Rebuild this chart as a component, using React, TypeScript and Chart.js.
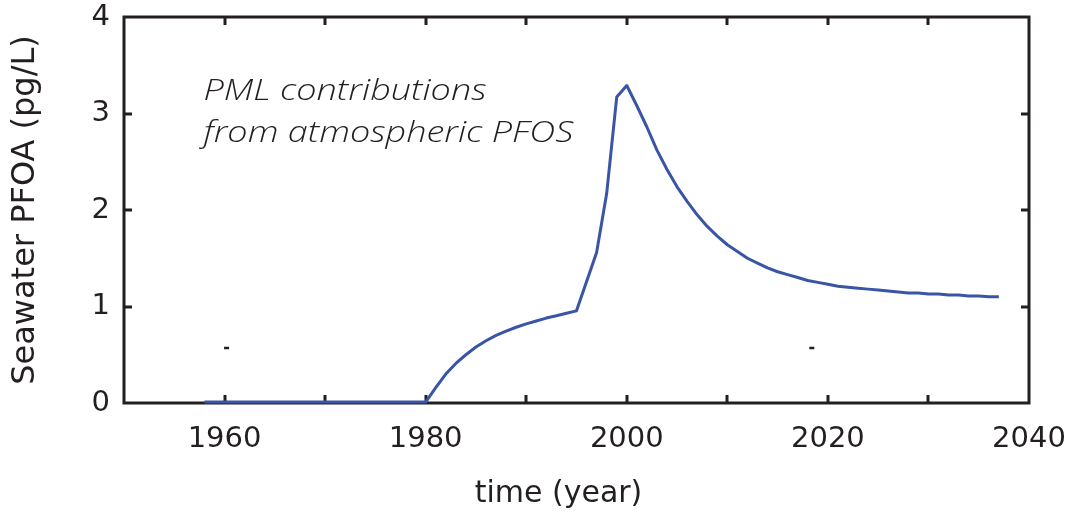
import React, { useEffect, useRef } from "react";
import { Chart, registerables } from "chart.js";

Chart.register(...registerables);

// ---- data ----
const years = [
  1958, 1980, 1981, 1982, 1983, 1984, 1985, 1986, 1987, 1988, 1989, 1990, 1991, 1992, 1993, 1994, 1995,
  1997, 1998, 1999, 2000, 2001, 2002, 2003, 2004, 2005, 2006, 2007, 2008, 2009, 2010, 2011, 2012, 2013,
  2014, 2015, 2016, 2017, 2018, 2019, 2020, 2021, 2022, 2023, 2024, 2025, 2026, 2027, 2028, 2029, 2030,
  2031, 2032, 2033, 2034, 2035, 2036, 2037,
];
const pfoa = [
  0.01, 0.01, 0.16, 0.3, 0.41, 0.5, 0.58, 0.645, 0.7, 0.745, 0.785, 0.82, 0.85, 0.88, 0.905, 0.93, 0.955,
  1.56, 2.17, 3.17, 3.29, 3.08, 2.86, 2.62, 2.42, 2.24, 2.09, 1.95, 1.83, 1.73, 1.64, 1.57, 1.5, 1.45,
  1.4, 1.36, 1.33, 1.3, 1.27, 1.25, 1.23, 1.21, 1.2, 1.19, 1.18, 1.17, 1.16, 1.15, 1.14, 1.14, 1.13,
  1.13, 1.12, 1.12, 1.11, 1.11, 1.1, 1.1,
];
const markerYears = [1960.2, 2018.4];
const markerValues = [0.57, 0.57];
const xLabelYears = [1960, 1980, 2000, 2020, 2040];
const yTickValues = [0, 1, 2, 3, 4];
const annotationLines = ["PML contributions", "from atmospheric PFOS"];
const xTitle = "time (year)";
const yTitle = "Seawater PFOA (pg/L)";

// ---- styling ----
const INK = "#231f20";
const LINE = "#3a54a6";
const FONT = "'DejaVu Sans', sans-serif";
const annotationAnchor = { year: 1957.9, value: 3.14 };
const annotationLineGap = 42;
const annotationStretch = 1.2;
const xTitleShift = -18;

const framePlugin = {
  id: "frame",
  beforeDatasetsDraw(chart: any) {
    const { ctx, chartArea } = chart;
    const { left, right, top, bottom } = chartArea;
    const xs = chart.scales.x;
    const ys = chart.scales.y;
    const tl = 8;
    ctx.save();
    ctx.strokeStyle = INK;
    ctx.lineWidth = 3;
    ctx.lineCap = "butt";
    ctx.beginPath();
    xs.ticks.forEach((t: any) => {
      const px = Math.round(xs.getPixelForValue(t.value));
      if (px <= left + 2 || px >= right - 2) return;
      ctx.moveTo(px, bottom);
      ctx.lineTo(px, bottom - tl);
      ctx.moveTo(px, top);
      ctx.lineTo(px, top + tl);
    });
    ys.ticks.forEach((t: any) => {
      const py = Math.round(ys.getPixelForValue(t.value));
      if (py <= top + 2 || py >= bottom - 2) return;
      ctx.moveTo(left, py);
      ctx.lineTo(left + tl, py);
      ctx.moveTo(right, py);
      ctx.lineTo(right - tl, py);
    });
    ctx.stroke();
    ctx.lineJoin = "miter";
    ctx.strokeRect(left, top, right - left, bottom - top);
    ctx.restore();
  },
  afterDraw(chart: any) {
    const { ctx, chartArea } = chart;
    const xs = chart.scales.x;
    const ys = chart.scales.y;
    // annotation
    const ax = xs.getPixelForValue(annotationAnchor.year);
    const ay = ys.getPixelForValue(annotationAnchor.value);
    ctx.save();
    ctx.fillStyle = INK;
    ctx.font = "italic 300 30px 'Open Sans', sans-serif";
    ctx.textAlign = "left";
    ctx.textBaseline = "alphabetic";
    ctx.translate(ax, ay);
    ctx.scale(annotationStretch, 1);
    annotationLines.forEach((s, i) => ctx.fillText(s, 0, i * annotationLineGap));
    ctx.restore();
    // x axis title
    ctx.save();
    ctx.fillStyle = INK;
    ctx.font = `30px ${FONT}`;
    ctx.textAlign = "center";
    ctx.textBaseline = "middle";
    ctx.fillText(xTitle, (chartArea.left + chartArea.right) / 2 + xTitleShift, 494);
    ctx.restore();
  },
};

export default function App() {
  const canvasRef = useRef<HTMLCanvasElement | null>(null);

  useEffect(() => {
    document.body.style.margin = "0";
    const canvas = canvasRef.current;
    if (!canvas) return;
    const lineData = years.map((yr, i) => ({ x: yr, y: pfoa[i] }));
    const markData = markerYears.map((yr, i) => ({ x: yr, y: markerValues[i] }));

    const chart = new Chart(canvas, {
      type: "line",
      data: {
        datasets: [
          {
            data: lineData,
            borderColor: LINE,
            borderWidth: 3,
            pointRadius: 0,
            tension: 0,
            borderJoinStyle: "round",
            borderCapStyle: "butt",
            clip: false,
          } as any,
          {
            type: "scatter",
            data: markData,
            pointStyle: "line",
            pointRadius: 2.5,
            borderWidth: 2.5,
            borderColor: INK,
            backgroundColor: INK,
            showLine: false,
          } as any,
        ],
      },
      options: {
        responsive: false,
        animation: false,
        events: [],
        layout: { padding: { top: 17, right: 36, left: 0, bottom: 0 } },
        plugins: { legend: { display: false }, tooltip: { enabled: false } },
        scales: {
          x: {
            type: "linear",
            min: 1950,
            max: 2040,
            grid: { display: false, drawTicks: false },
            border: { display: false },
            ticks: {
              stepSize: 10,
              autoSkip: false,
              maxRotation: 0,
              padding: 19,
              color: INK,
              font: { family: FONT, size: 29 },
              callback: (v: any) => (xLabelYears.includes(Number(v)) ? String(v) : ""),
            },
            title: { display: false, text: xTitle },
            afterFit: (s: any) => {
              s.height = 118;
              s.paddingLeft = 0;
              s.paddingRight = 0;
            },
          },
          y: {
            type: "linear",
            min: 0,
            max: 4,
            grid: { display: false, drawTicks: false },
            border: { display: false },
            afterBuildTicks: (s: any) => {
              s.ticks = yTickValues.map((v) => ({ value: v }));
            },
            ticks: {
              padding: 14,
              color: INK,
              font: { family: FONT, size: 29 },
              callback: (v: any) => String(v),
            },
            title: {
              display: true,
              text: yTitle,
              color: INK,
              font: { family: FONT, size: 32 },
              padding: { top: 6, bottom: 0 },
            },
            afterFit: (s: any) => {
              s.width = 124;
              s.paddingTop = 0;
              s.paddingBottom = 0;
            },
          },
        },
      },
      plugins: [framePlugin],
    });
    return () => chart.destroy();
  }, []);

  return (
    <div style={{ position: "absolute", left: 0, top: 0, width: 1065, height: 521, background: "#fff" }}>
      <canvas ref={canvasRef} width={1065} height={521} />
    </div>
  );
}
